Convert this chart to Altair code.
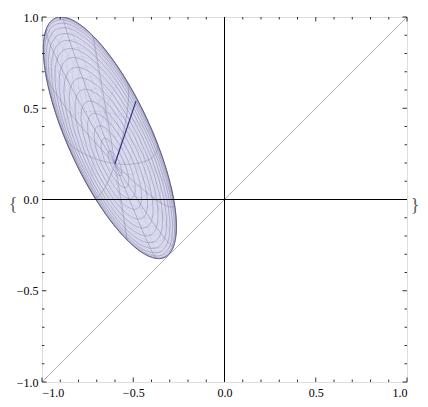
import numpy as np
import pandas as pd
import altair as alt

# ---- values ----
major_ticks = [-1.0, -0.5, 0.0, 0.5, 1.0]
minor_ticks = [-0.9, -0.8, -0.7, -0.6, -0.4, -0.3, -0.2, -0.1,
               0.1, 0.2, 0.3, 0.4, 0.6, 0.7, 0.8, 0.9]
diag_x = [-1.0, 1.0]
diag_y = [-1.0, 1.0]
ell_center = [-0.628, 0.338]                   # centre of the outline ellipse
ell_shape = [[0.1330, -0.177], [-0.177, 0.4382]]  # shape matrix of the outline
pole = [-0.600, 0.197]                         # point where the mesh meridians meet
ray_end = [-0.485, 0.539]                      # end of the dark segment
n_lat = 30
n_lon = 12

W = H = 365

# ---- geometry of the meshed ellipsoid (projected sphere) ----
c0 = np.array(ell_center)
S = np.array(ell_shape)
w = np.array(pole) - c0
Sp = S - np.outer(w, w)
lam, E = np.linalg.eigh(Sp)
L = E @ np.diag(np.sqrt(lam))
d = np.array(ray_end) - np.array(pole)
cc = np.linalg.solve(L, d)
phi0 = np.arctan2(cc[1], cc[0])
M = np.column_stack([L[:, 0], L[:, 1], w])
nrm = np.cross(M[0], M[1])
if nrm[2] < 0:
    nrm = -nrm

rows = []
seg = [0]


def add_curve(X):
    P = c0[:, None] + M @ X
    vis = (nrm @ X) >= 0
    start = 0
    for i in range(1, X.shape[1] + 1):
        if i == X.shape[1] or vis[i] != vis[start]:
            end = min(i + 1, X.shape[1])
            side = "front" if vis[start] else "back"
            for j in range(start, end):
                rows.append((seg[0], j, P[0, j], P[1, j], side))
            seg[0] += 1
            start = i


phi = np.linspace(0, 2 * np.pi, 241)
for k in range(1, n_lat):
    th = k * np.pi / n_lat
    X = np.vstack([np.sin(th) * np.cos(phi), np.sin(th) * np.sin(phi),
                   np.full_like(phi, np.cos(th))])
    add_curve(X)
th = np.linspace(0, np.pi, 161)
for j in range(n_lon):
    ph = phi0 + j * 2 * np.pi / n_lon
    X = np.vstack([np.sin(th) * np.cos(ph), np.sin(th) * np.sin(ph), np.cos(th)])
    add_curve(X)
mesh = pd.DataFrame(rows, columns=["seg", "i", "x", "y", "side"])
front = mesh[mesh.side == "front"]
back = mesh[mesh.side == "back"]

# outline and fill
hx, hy, sxy = np.sqrt(S[0, 0]), np.sqrt(S[1, 1]), S[0, 1]
det = np.linalg.det(S)
s = np.linspace(np.pi, 0, 301)
dx = hx * np.cos(s)
root = np.sqrt(np.clip(det * (hx ** 2 - dx ** 2), 0, None))
fill = pd.DataFrame({
    "x": c0[0] + dx,
    "ylo": c0[1] + (sxy * dx - root) / hx ** 2,
    "yhi": c0[1] + (sxy * dx + root) / hx ** 2,
})
Lc = np.linalg.cholesky(S)
t = np.linspace(0, 2 * np.pi, 361)
op = c0[:, None] + Lc @ np.vstack([np.cos(t), np.sin(t)])
outline = pd.DataFrame({"i": np.arange(len(t)), "x": op[0], "y": op[1]})

ray = pd.DataFrame({"i": [0, 1], "x": [pole[0], ray_end[0]], "y": [pole[1], ray_end[1]]})
diag = pd.DataFrame({"i": [0, 1], "x": diag_x, "y": diag_y})
zero = pd.DataFrame({"v": [0.0]})
maj = pd.DataFrame({"v": major_ticks})
mnr = pd.DataFrame({"v": minor_ticks})

scale = alt.Scale(domain=[-1, 1], nice=False, zero=False)
axis_kw = dict(values=major_ticks, format=".1f", ticks=False, domain=False, grid=False,
               labelFont="Liberation Serif", labelFontSize=12, labelColor="black",
               title=None)
xax = alt.Axis(orient="bottom", labelPadding=5, **axis_kw)
yax = alt.Axis(orient="left", labelPadding=4, **axis_kw)


def X(f):
    return alt.X(f, type="quantitative", scale=scale, axis=xax)


def Y(f):
    return alt.Y(f, type="quantitative", scale=scale, axis=yax)


layers = []
layers.append(alt.Chart(fill).mark_area(color="#d9d9ef", opacity=1, clip=True).encode(
    x=X("x"), y=Y("ylo"), y2="yhi"))
layers.append(alt.Chart(back).mark_line(color="#9090b0", strokeWidth=0.5, opacity=0.3,
                                        clip=True).encode(
    x=X("x"), y=Y("y"), detail="seg:N", order="i:Q"))
layers.append(alt.Chart(front).mark_line(color="#7c7c9c", strokeWidth=0.6, opacity=0.75,
                                         clip=True).encode(
    x=X("x"), y=Y("y"), detail="seg:N", order="i:Q"))
layers.append(alt.Chart(outline).mark_line(color="#5a5a80", strokeWidth=1, clip=True).encode(
    x=X("x"), y=Y("y"), order="i:Q"))
layers.append(alt.Chart(ray).mark_line(color="#2a2a80", strokeWidth=1.1, clip=True).encode(
    x=X("x"), y=Y("y"), order="i:Q"))
layers.append(alt.Chart(diag).mark_line(color="#b4aec8", strokeWidth=1, clip=True).encode(
    x=X("x"), y=Y("y"), order="i:Q"))
layers.append(alt.Chart(zero).mark_rule(color="black", strokeWidth=1).encode(x=X("v")))
layers.append(alt.Chart(zero).mark_rule(color="black", strokeWidth=1).encode(y=Y("v")))

# frame ticks (inward)
for df, ln in [(maj, 4.5), (mnr, 2.5)]:
    layers.append(alt.Chart(df).mark_rule(color="black", strokeWidth=0.8).encode(
        x=X("v"), y=alt.value(H), y2=alt.value(H - ln)))
    layers.append(alt.Chart(df).mark_rule(color="black", strokeWidth=0.8).encode(
        x=X("v"), y=alt.value(0), y2=alt.value(ln)))
    layers.append(alt.Chart(df).mark_rule(color="black", strokeWidth=0.8).encode(
        y=Y("v"), x=alt.value(0), x2=alt.value(ln)))
    layers.append(alt.Chart(df).mark_rule(color="black", strokeWidth=0.8).encode(
        y=Y("v"), x=alt.value(W), x2=alt.value(W - ln)))

brl = pd.DataFrame({"t": ["{"]})
brr = pd.DataFrame({"t": ["}"]})
layers.append(alt.Chart(brl).mark_text(font="Liberation Serif", fontSize=18, color="#555555",
                                       baseline="middle", align="center").encode(
    text="t:N", x=alt.value(-29), y=alt.value(188)))
layers.append(alt.Chart(brr).mark_text(font="Liberation Serif", fontSize=18, color="#555555",
                                       baseline="middle", align="center").encode(
    text="t:N", x=alt.value(373), y=alt.value(189)))

chart = alt.layer(*layers).properties(
    width=W, height=H,
    padding={"left": 34, "top": 9, "right": 13, "bottom": 17},
    autosize=alt.AutoSizeParams(type="none"),
).configure_view(stroke="black", strokeWidth=1).configure(background="white")

chart.save("out.html", embed_options={"renderer": "svg", "actions": False})
